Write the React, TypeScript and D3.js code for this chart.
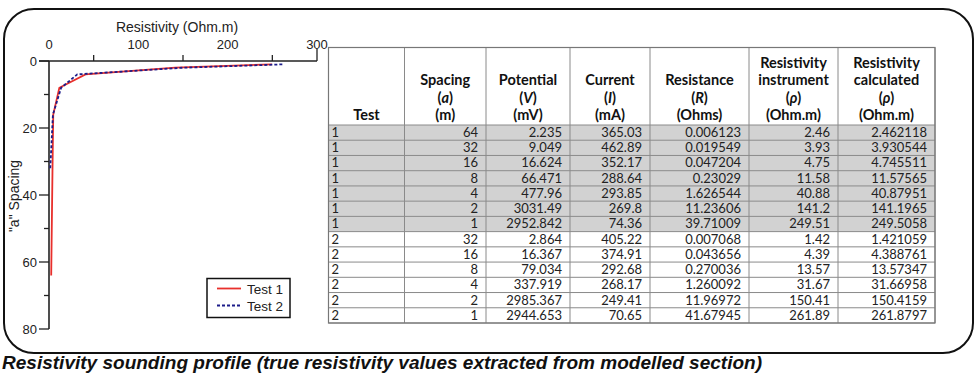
import React from "react";
import * as d3 from "d3";

// ---------- data ----------
const testIds = [1, 1, 1, 1, 1, 1, 1, 2, 2, 2, 2, 2, 2];
const spacing = [64, 32, 16, 8, 4, 2, 1, 32, 16, 8, 4, 2, 1];
const potential = ["2.235", "9.049", "16.624", "66.471", "477.96", "3031.49", "2952.842", "2.864", "16.367", "79.034", "337.919", "2985.367", "2944.653"];
const current = ["365.03", "462.89", "352.17", "288.64", "293.85", "269.8", "74.36", "405.22", "374.91", "292.68", "268.17", "249.41", "70.65"];
const resistance = ["0.006123", "0.019549", "0.047204", "0.23029", "1.626544", "11.23606", "39.71009", "0.007068", "0.043656", "0.270036", "1.260092", "11.96972", "41.67945"];
const rhoInstrument = ["2.46", "3.93", "4.75", "11.58", "40.88", "141.2", "249.51", "1.42", "4.39", "13.57", "31.67", "150.41", "261.89"];
const rhoCalculated = ["2.462118", "3.930544", "4.745511", "11.57565", "40.87951", "141.1965", "249.5058", "1.421059", "4.388761", "13.57347", "31.66958", "150.4159", "261.8797"];

const seriesNames = ["Test 1", "Test 2"];
const xTickLabels = [0, 100, 200, 300];
const xMinorTicks = [50, 150, 250];
const yTickLabels = [0, 20, 40, 60, 80];
const yMinorTicks = [10, 30, 50, 70];

// header lines: [text, italicPart?]
type HeadLine = { pre: string; it?: string; post?: string };
const headers: HeadLine[][] = [
  [{ pre: "Test" }],
  [{ pre: "Spacing" }, { pre: "(", it: "a", post: ")" }, { pre: "(m)" }],
  [{ pre: "Potential" }, { pre: "(", it: "V", post: ")" }, { pre: "(mV)" }],
  [{ pre: "Current" }, { pre: "(", it: "I", post: ")" }, { pre: "(mA)" }],
  [{ pre: "Resistance" }, { pre: "(", it: "R", post: ")" }, { pre: "(Ohms)" }],
  [{ pre: "Resistivity" }, { pre: "instrument" }, { pre: "(", it: "ρ", post: ")" }, { pre: "(Ohm.m)" }],
  [{ pre: "Resistivity" }, { pre: "calculated" }, { pre: "(", it: "ρ", post: ")" }, { pre: "(Ohm.m)" }],
];

// ---------- layout ----------
const W = 976, H = 383;
const colEdges = [328.5, 404.5, 486, 570, 650, 749, 838, 935];
const tableTop = 47.5, headBottom = 125, tableBottom = 323;

const AX = "Liberation Sans, Arial, sans-serif";
const TB = "Lato, Carlito, Calibri, sans-serif";

export default function App() {
  const x = d3.scaleLinear().domain([0, 300]).range([49, 317]);
  const y = d3.scaleLinear().domain([0, 80]).range([61, 329]);

  const series = seriesNames.map((name, si) =>
    spacing
      .map((s, i) => ({ s, r: +rhoInstrument[i], t: testIds[i] }))
      .filter((d) => d.t === si + 1)
  );
  const line = d3
    .line<{ s: number; r: number }>()
    .x((d) => x(d.r))
    .y((d) => y(d.s));

  const rows = d3.scaleBand<number>().domain(d3.range(spacing.length)).range([headBottom, tableBottom]);
  const cols = [testIds.map(String), spacing.map(String), potential, current, resistance, rhoInstrument, rhoCalculated];

  const headBaselines = (n: number) => d3.range(n).map((k) => 120 - (n - 1 - k) * 17.5);

  return (
    <div style={{ position: "absolute", left: 0, top: 0 }}>
      <svg width={W} height={H} style={{ display: "block", background: "#fff" }}>
        {/* outer frame */}
        <rect x={4} y={9} width={969} height={344} rx={30} ry={30} fill="none" stroke="#111" strokeWidth={2} />

        {/* ---------- chart ---------- */}
        <text x={177} y={32} textAnchor="middle" fontFamily={AX} fontSize={14} fill="#222">
          Resistivity (Ohm.m)
        </text>
        {xTickLabels.map((v) => (
          <text key={v} x={x(v)} y={49} textAnchor="middle" fontFamily={AX} fontSize={13} fill="#222">
            {v}
          </text>
        ))}
        {xMinorTicks.map((v) => (
          <line key={v} x1={x(v)} x2={x(v)} y1={y(0)} y2={y(0) - 6} stroke="#222" strokeWidth={1.3} />
        ))}
        <line x1={x(300)} x2={x(300)} y1={y(0)} y2={y(0) - 12} stroke="#222" strokeWidth={1.3} />
        <line x1={x(0) - 10} x2={x(300)} y1={y(0)} y2={y(0)} stroke="#222" strokeWidth={1.6} />
        <line x1={x(0)} x2={x(0)} y1={y(0)} y2={y(80)} stroke="#222" strokeWidth={1.6} />
        {yTickLabels.map((v) => (
          <g key={v}>
            <line x1={x(0) - 10} x2={x(0)} y1={y(v)} y2={y(v)} stroke="#222" strokeWidth={1.3} />
            <text x={37} y={y(v) + 4.5} textAnchor="end" fontFamily={AX} fontSize={13} fill="#222">
              {v}
            </text>
          </g>
        ))}
        {yMinorTicks.map((v) => (
          <line key={v} x1={x(0) - 5} x2={x(0)} y1={y(v)} y2={y(v)} stroke="#222" strokeWidth={1.3} />
        ))}
        <text
          transform={`translate(19,196) rotate(-90)`}
          textAnchor="middle"
          fontFamily={AX}
          fontSize={14}
          fill="#222"
        >
          "a" Spacing
        </text>

        <path d={line(series[0]) || ""} fill="none" stroke="#e8302c" strokeWidth={1.8} />
        <path d={line(series[1]) || ""} fill="none" stroke="#1c1c8a" strokeWidth={1.8} strokeDasharray="3,2" />

        {/* legend */}
        <rect x={207} y={278.5} width={83} height={39} fill="#fff" stroke="#111" strokeWidth={1.5} />
        <line x1={217} x2={241} y1={288.5} y2={288.5} stroke="#e8302c" strokeWidth={1.8} />
        <line x1={217} x2={241} y1={305.5} y2={305.5} stroke="#1c1c8a" strokeWidth={1.8} strokeDasharray="3,2" />
        <text x={247} y={293.5} fontFamily={AX} fontSize={13.5} fill="#222">{seriesNames[0]}</text>
        <text x={247} y={310.5} fontFamily={AX} fontSize={13.5} fill="#222">{seriesNames[1]}</text>

        {/* ---------- table ---------- */}
        {d3.range(spacing.length).map((i) => (
          <rect
            key={i}
            x={colEdges[0]}
            y={rows(i)!}
            width={colEdges[7] - colEdges[0]}
            height={rows.bandwidth()}
            fill={testIds[i] === 1 ? "#d2d2d2" : "#fff"}
          />
        ))}
        {d3.range(spacing.length + 1).map((i) => (
          <line
            key={i}
            x1={colEdges[0]}
            x2={colEdges[7]}
            y1={headBottom + i * rows.bandwidth()}
            y2={headBottom + i * rows.bandwidth()}
            stroke="#8a8a8a"
            strokeWidth={1}
          />
        ))}
        {colEdges.map((cx, k) => (
          <line key={k} x1={cx} x2={cx} y1={tableTop} y2={tableBottom} stroke="#8a8a8a" strokeWidth={1} />
        ))}
        <rect
          x={colEdges[0]}
          y={tableTop}
          width={colEdges[7] - colEdges[0]}
          height={tableBottom - tableTop}
          fill="none"
          stroke="#777"
          strokeWidth={1.2}
        />
        {headers.map((hl, c) => {
          const cx = (colEdges[c] + colEdges[c + 1]) / 2;
          const bl = headBaselines(hl.length);
          return hl.map((h, k) => (
            <text key={`${c}-${k}`} x={cx} y={bl[k]} textAnchor="middle" fontFamily={TB} fontWeight="bold" fontSize={14.5} fill="#111">
              {h.pre}
              {h.it ? <tspan fontStyle="italic">{h.it}</tspan> : null}
              {h.post || null}
            </text>
          ));
        })}
        {cols.map((vals, c) =>
          vals.map((v, i) => (
            <text
              key={`${c}-${i}`}
              x={c === 0 ? colEdges[0] + 3 : colEdges[c + 1] - 8}
              y={rows(i)! + 12}
              textAnchor={c === 0 ? "start" : "end"}
              fontFamily={TB}
              fontSize={13}
              fill="#222"
            >
              {v}
            </text>
          ))
        )}

        {/* caption */}
        <text
          x={2}
          y={369}
          fontFamily="Liberation Sans Narrow, Arial Narrow, Liberation Sans, Arial, sans-serif"
          fontWeight="bold"
          fontStyle="italic"
          fontSize={17.5}
          textLength={760}
          lengthAdjust="spacingAndGlyphs"
          fill="#111"
        >
          Resistivity sounding profile (true resistivity values extracted from modelled section)
        </text>
      </svg>
    </div>
  );
}
